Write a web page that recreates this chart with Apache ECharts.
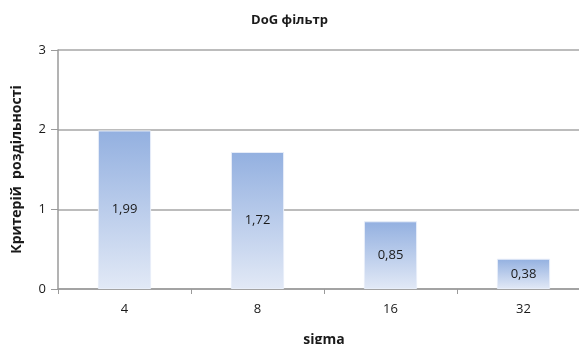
<!DOCTYPE html>
<html lang="uk">
  <head>
    <meta charset="UTF-8" />
    <title>DoG фільтр</title>
    <script src="https://cdn.jsdelivr.net/npm/echarts@6/dist/echarts.min.js"></script>
    <style>
      * { margin: 0; padding: 0; }
      body { background: #fff; overflow: hidden; }
      #chart { width: 579px; height: 344px; }
    </style>
  </head>
  <body>
    <div id="chart"></div>
    <script>
      const categories = ["4", "8", "16", "32"];
      const values = [1.99, 1.72, 0.85, 0.38];
      const yTicks = [0, 1, 2, 3];

      const font = "'Open Sans', 'Noto Sans', sans-serif";
      const chart = echarts.init(document.getElementById("chart"));

      chart.setOption({
        animation: false,
        title: {
          text: "DoG фільтр",
          left: "center",
          top: 9,
          textStyle: { fontFamily: font, fontSize: 13, fontWeight: "bold", color: "#1a1a1a" },
        },
        // plot area runs past the right edge of the picture
        grid: { left: 58, top: 50, width: 532, height: 239, outerBoundsMode: "none", containLabel: false },
        xAxis: {
          type: "category",
          data: categories,
          name: "sigma",
          nameLocation: "middle",
          nameGap: 44,
          nameTextStyle: { fontFamily: font, fontSize: 14, fontWeight: "bold", color: "#1a1a1a" },
          axisLine: { lineStyle: { color: "#9a9a9a", width: 1.5 } },
          axisTick: { show: true, length: 5, lineStyle: { color: "#9a9a9a" } },
          axisLabel: { fontFamily: font, fontSize: 13, color: "#1a1a1a", margin: 14 },
        },
        yAxis: {
          type: "value",
          min: yTicks[0],
          max: yTicks[yTicks.length - 1],
          interval: 1,
          name: "Критерій  роздільності",
          nameLocation: "middle",
          nameGap: 34,
          nameTextStyle: { fontFamily: font, fontSize: 14, fontWeight: "bold", color: "#1a1a1a" },
          axisLine: { show: true, lineStyle: { color: "#9a9a9a", width: 1.5 } },
          axisTick: { show: true, length: 7, lineStyle: { color: "#9a9a9a" } },
          axisLabel: { fontFamily: font, fontSize: 13, color: "#1a1a1a", margin: 12 },
          splitLine: { lineStyle: { color: "#a6a6a6", width: 1.5 } },
        },
        series: [
          {
            type: "bar",
            data: values,
            barWidth: "40%",
            itemStyle: {
              color: new echarts.graphic.LinearGradient(0, 0, 0, 1, [
                { offset: 0, color: "#93b0e0" },
                { offset: 1, color: "#e2e9f6" },
              ]),
              borderColor: "#e8eef9",
              borderWidth: 1,
            },
            label: {
              show: true,
              position: "inside",
              fontFamily: font,
              fontSize: 13,
              color: "#1a1a1a",
              formatter: (p) => p.value.toFixed(2).replace(".", ","),
            },
          },
        ],
      });
    </script>
  </body>
</html>
